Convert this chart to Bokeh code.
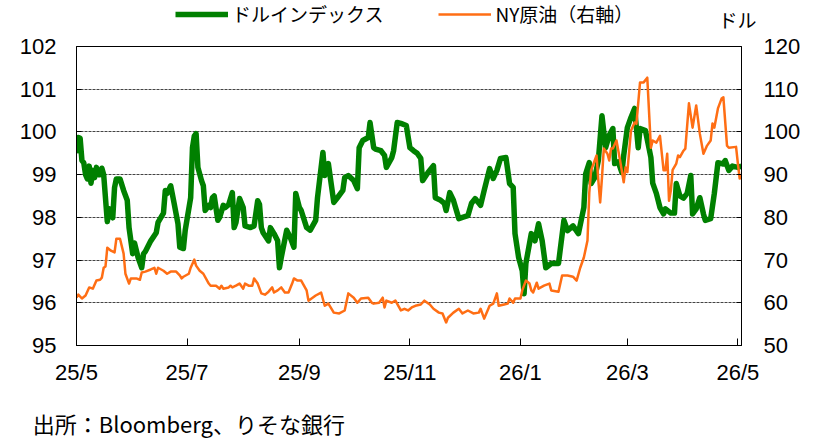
import pandas as pd
from bokeh.plotting import figure
from bokeh.layouts import column
from bokeh.models import (Range1d, LinearAxis, FixedTicker, Legend, LegendItem,
                          ColumnDataSource)
from bokeh.embed import file_html
from bokeh.resources import INLINE

# ---------------- data ----------------
green_dates = [
    "2025-05-01", "2025-05-02", "2025-05-03", "2025-05-04", "2025-05-05", "2025-05-06", "2025-05-07",
    "2025-05-08", "2025-05-09", "2025-05-10", "2025-05-11", "2025-05-12", "2025-05-13", "2025-05-14",
    "2025-05-15", "2025-05-16", "2025-05-18", "2025-05-19", "2025-05-21", "2025-05-22", "2025-05-23",
    "2025-05-25", "2025-05-27", "2025-05-29", "2025-05-30",
    "2025-06-01", "2025-06-02", "2025-06-04", "2025-06-06", "2025-06-07", "2025-06-08", "2025-06-11",
    "2025-06-14", "2025-06-15", "2025-06-18", "2025-06-19", "2025-06-20", "2025-06-22", "2025-06-24",
    "2025-06-26", "2025-06-27", "2025-06-29", "2025-06-30",
    "2025-07-03", "2025-07-04", "2025-07-05", "2025-07-06", "2025-07-07", "2025-07-09", "2025-07-10",
    "2025-07-11", "2025-07-13", "2025-07-14", "2025-07-15", "2025-07-16", "2025-07-18", "2025-07-19",
    "2025-07-21", "2025-07-22", "2025-07-24", "2025-07-26", "2025-07-27", "2025-07-28", "2025-07-30",
    "2025-08-01", "2025-08-02", "2025-08-05", "2025-08-07", "2025-08-09", "2025-08-10", "2025-08-11",
    "2025-08-12", "2025-08-15", "2025-08-16", "2025-08-18", "2025-08-20", "2025-08-21", "2025-08-22",
    "2025-08-25", "2025-08-27", "2025-08-29", "2025-08-30",
    "2025-09-01", "2025-09-02", "2025-09-05", "2025-09-07", "2025-09-10", "2025-09-11", "2025-09-14",
    "2025-09-15", "2025-09-17", "2025-09-20", "2025-09-22", "2025-09-25", "2025-09-26", "2025-09-28",
    "2025-10-01", "2025-10-03", "2025-10-04", "2025-10-06", "2025-10-09", "2025-10-10", "2025-10-12",
    "2025-10-13", "2025-10-16", "2025-10-18", "2025-10-19", "2025-10-22", "2025-10-23", "2025-10-25",
    "2025-10-27", "2025-10-30",
    "2025-11-01", "2025-11-03", "2025-11-05", "2025-11-07", "2025-11-08", "2025-11-11", "2025-11-14",
    "2025-11-15", "2025-11-18", "2025-11-20", "2025-11-21", "2025-11-23", "2025-11-25", "2025-11-28",
    "2025-11-30",
    "2025-12-03", "2025-12-05", "2025-12-07", "2025-12-10", "2025-12-12", "2025-12-15", "2025-12-17",
    "2025-12-19", "2025-12-21", "2025-12-24", "2025-12-26", "2025-12-28", "2025-12-29", "2025-12-31",
    "2026-01-02", "2026-01-03", "2026-01-04", "2026-01-06", "2026-01-07", "2026-01-09", "2026-01-11",
    "2026-01-13", "2026-01-15", "2026-01-18", "2026-01-22", "2026-01-25", "2026-01-27", "2026-01-30",
    "2026-02-02", "2026-02-05", "2026-02-06", "2026-02-08", "2026-02-09", "2026-02-11", "2026-02-13",
    "2026-02-15", "2026-02-17", "2026-02-19", "2026-02-21", "2026-02-22", "2026-02-24", "2026-02-26",
    "2026-02-27",
    "2026-03-01", "2026-03-03", "2026-03-05", "2026-03-07", "2026-03-08", "2026-03-11", "2026-03-14",
    "2026-03-15", "2026-03-17", "2026-03-19", "2026-03-21", "2026-03-22", "2026-03-25", "2026-03-27",
    "2026-03-28", "2026-03-30",
    "2026-04-01", "2026-04-03", "2026-04-05", "2026-04-06", "2026-04-08", "2026-04-10", "2026-04-12",
    "2026-04-13", "2026-04-16", "2026-04-18", "2026-04-20", "2026-04-23", "2026-04-24", "2026-04-26",
    "2026-04-28",
    "2026-05-01", "2026-05-03",
]
dollar_index = [
    99.5, 99.87, 99.85, 99.33, 99.28, 99.0, 98.9,
    99.2, 98.8, 99.1, 98.93, 99.17, 99.0, 99.0,
    99.15, 99.0, 97.9, 98.2, 97.99, 98.7, 98.9,
    98.9, 98.63, 98.4, 97.76,
    97.15, 97.4, 97.06, 96.82, 97.15, 97.2, 97.45,
    97.64, 97.88, 98.1, 98.63, 98.56, 98.74, 98.3,
    97.85, 97.3, 97.27, 97.7,
    98.46, 99.63, 99.9, 99.96, 99.17, 98.86, 98.74,
    98.16, 98.28, 98.23, 98.46, 98.5, 97.93, 98.0,
    98.28, 98.23, 98.3, 98.58, 97.76, 97.88, 98.44,
    98.23, 97.8, 97.76, 97.8, 98.39, 98.3, 97.76,
    97.64, 97.45, 97.76, 97.62, 97.45, 96.82, 97.06,
    97.7, 97.53, 97.3, 98.56,
    98.23, 98.16, 97.76, 97.7, 97.93, 98.46, 99.52,
    98.98, 99.26, 98.35, 98.46, 98.63, 98.93, 98.98,
    98.86, 98.67, 99.63, 99.8, 99.87, 100.22, 99.63,
    99.6, 99.56, 99.45, 99.17, 99.4, 99.56, 100.22,
    100.2, 100.15,
    99.63, 99.56, 99.5, 99.38, 98.86, 99.05, 99.21,
    98.46, 98.4, 98.33, 98.16, 98.58, 98.4, 97.97,
    98.0,
    98.04, 98.33, 98.44, 98.28, 98.63, 99.14, 98.91,
    99.1, 99.38, 99.4, 98.79, 98.7, 97.62, 97.06,
    96.75, 96.21, 96.92, 97.39, 97.62, 97.45, 97.85,
    97.45, 96.82, 96.92, 96.92, 97.93, 97.69, 97.8,
    97.62, 98.23, 99.02, 99.28, 98.79, 98.93, 99.33,
    100.38, 99.63, 99.92, 100.08, 99.26, 99.3, 99.05,
    99.45,
    100.1, 100.34, 100.55, 99.63, 100.08, 100.03, 99.4,
    98.8, 98.56, 98.23, 98.08, 98.2, 98.1, 98.1,
    98.79, 98.5,
    98.45, 98.56, 98.98, 98.08, 98.2, 98.46, 98.08,
    97.93, 97.97, 98.56, 99.28, 99.25, 99.33, 99.1,
    99.2,
    99.17, 99.2,
]

oil_dates = [
    "2025-05-01", "2025-05-02", "2025-05-04", "2025-05-06", "2025-05-08", "2025-05-10", "2025-05-12",
    "2025-05-14", "2025-05-15", "2025-05-16", "2025-05-17", "2025-05-18", "2025-05-20", "2025-05-22",
    "2025-05-23", "2025-05-25", "2025-05-27", "2025-05-28", "2025-05-30", "2025-05-31",
    "2025-06-03", "2025-06-05", "2025-06-06", "2025-06-08", "2025-06-11", "2025-06-13", "2025-06-14",
    "2025-06-15", "2025-06-18", "2025-06-20", "2025-06-22", "2025-06-25", "2025-06-27", "2025-06-28",
    "2025-06-29",
    "2025-07-02", "2025-07-03", "2025-07-05", "2025-07-06", "2025-07-08", "2025-07-10", "2025-07-13",
    "2025-07-14", "2025-07-17", "2025-07-19", "2025-07-20", "2025-07-21", "2025-07-24", "2025-07-25",
    "2025-07-26", "2025-07-28", "2025-07-30",
    "2025-08-01", "2025-08-02", "2025-08-04", "2025-08-06", "2025-08-07", "2025-08-09", "2025-08-11",
    "2025-08-13", "2025-08-15", "2025-08-17", "2025-08-18", "2025-08-20", "2025-08-22", "2025-08-24",
    "2025-08-26", "2025-08-28", "2025-08-29", "2025-08-31",
    "2025-09-02", "2025-09-05", "2025-09-06", "2025-09-10", "2025-09-13", "2025-09-15", "2025-09-17",
    "2025-09-20", "2025-09-23", "2025-09-26", "2025-09-28",
    "2025-10-01", "2025-10-03", "2025-10-05", "2025-10-09", "2025-10-11", "2025-10-12", "2025-10-15",
    "2025-10-17", "2025-10-18", "2025-10-19", "2025-10-22", "2025-10-24", "2025-10-27", "2025-10-29",
    "2025-10-31",
    "2025-11-02", "2025-11-04", "2025-11-07", "2025-11-09", "2025-11-12", "2025-11-14", "2025-11-17",
    "2025-11-19", "2025-11-21", "2025-11-22", "2025-11-25", "2025-11-28", "2025-11-30",
    "2025-12-03", "2025-12-06", "2025-12-09", "2025-12-10", "2025-12-12", "2025-12-15", "2025-12-17",
    "2025-12-19", "2025-12-20", "2025-12-23", "2025-12-25", "2025-12-26", "2025-12-28", "2025-12-29",
    "2026-01-01", "2026-01-02", "2026-01-04", "2026-01-06", "2026-01-07", "2026-01-08", "2026-01-10",
    "2026-01-11", "2026-01-14", "2026-01-17", "2026-01-18", "2026-01-22", "2026-01-24", "2026-01-27",
    "2026-01-30",
    "2026-02-01", "2026-02-03", "2026-02-05", "2026-02-07", "2026-02-08", "2026-02-09", "2026-02-11",
    "2026-02-12", "2026-02-13", "2026-02-14", "2026-02-15", "2026-02-16", "2026-02-18", "2026-02-19",
    "2026-02-20", "2026-02-21", "2026-02-23", "2026-02-25", "2026-02-27", "2026-02-28",
    "2026-03-01", "2026-03-03", "2026-03-05", "2026-03-06", "2026-03-08", "2026-03-10", "2026-03-12",
    "2026-03-14", "2026-03-15", "2026-03-17", "2026-03-19", "2026-03-21", "2026-03-22", "2026-03-23",
    "2026-03-24", "2026-03-25", "2026-03-26", "2026-03-28", "2026-03-29", "2026-03-30",
    "2026-04-01", "2026-04-02", "2026-04-04", "2026-04-06", "2026-04-08", "2026-04-10", "2026-04-12",
    "2026-04-14", "2026-04-16", "2026-04-17", "2026-04-18", "2026-04-20", "2026-04-22", "2026-04-23",
    "2026-04-25", "2026-04-26", "2026-04-30",
    "2026-05-01", "2026-05-02", "2026-05-03",
]
ny_crude = [
    61.2, 61.9, 61.0, 61.7, 63.6, 63.3, 65.2,
    65.4, 65.9, 68.2, 68.5, 72.9, 72.2, 71.8,
    75.0, 75.0, 71.5, 66.8, 64.5, 65.7,
    65.7, 65.4, 67.1, 67.3, 67.8, 68.2, 66.8,
    68.2, 67.5, 66.8, 67.3, 67.3, 66.4, 65.7,
    66.1,
    66.8, 68.2, 70.1, 68.7, 67.5, 66.8, 64.5,
    64.0, 64.0, 63.3, 64.0, 63.3, 63.6, 64.0,
    63.6, 64.0, 64.5,
    63.3, 64.5, 64.0, 64.0, 65.7, 64.5, 62.2,
    61.9, 62.6, 63.6, 62.4, 62.9, 63.6, 62.4,
    62.4, 64.5, 65.7, 65.2,
    65.2, 62.9, 60.5, 61.7, 62.4, 59.3, 59.8,
    57.7, 57.5, 58.2, 62.2,
    61.2, 60.0, 61.0, 61.2, 60.0, 59.8, 60.0,
    61.2, 58.9, 60.5, 60.0, 60.5, 58.2, 58.6,
    58.2,
    58.9, 59.3, 59.6, 60.5, 59.6, 58.6, 57.7,
    57.5, 55.4, 56.5, 57.7, 58.6, 57.5,
    58.2, 57.5, 57.7, 58.6, 56.3, 59.3, 59.8,
    62.2, 59.3, 59.6, 59.8, 61.0, 60.0, 61.0,
    61.0, 62.9, 65.2, 64.5, 62.9, 62.4, 64.7,
    63.3, 64.0, 64.5, 62.9, 62.6, 66.4, 66.4,
    66.1,
    65.2, 68.2, 70.6, 74.6, 85.8, 91.0, 93.3,
    94.5, 88.6, 83.5, 89.3, 96.1, 94.9, 93.3,
    96.1, 96.1, 98.0, 93.3, 88.2, 91.7,
    90.6, 100.3, 102.2, 101.9, 111.6, 111.6, 112.7,
    96.3, 98.0, 97.5, 99.1, 91.0, 91.0, 94.9,
    83.9, 86.3, 91.1, 92.6, 94.5, 94.1,
    95.6, 96.1, 106.7, 101.0, 106.2, 99.6, 94.9,
    96.8, 98.0, 102.0, 101.0, 105.5, 107.8, 108.1,
    96.8, 96.3, 96.5,
    92.6, 89.1, 89.8,
]

tick_dates = ["2025-05-01", "2025-07-01", "2025-09-01", "2025-11-01",
              "2026-01-01", "2026-03-01", "2026-05-01"]
tick_labels = ["25/5", "25/7", "25/9", "25/11", "26/1", "26/3", "26/5"]

left_ticks = [95, 96, 97, 98, 99, 100, 101, 102]
right_ticks = [50, 60, 70, 80, 90, 100, 110, 120]

series_names = ["ドルインデックス", "NY原油（右軸）"]
unit_label = "ドル"
source_text = "出所：Bloomberg、りそな銀行"

assert len(green_dates) == len(dollar_index)
assert len(oil_dates) == len(ny_crude)

# ---------------- build ----------------
start = pd.Timestamp("2025-05-01")
def to_days(ds):
    return [int(v) for v in (pd.to_datetime(ds) - start).days]

g_src = ColumnDataSource(dict(x=to_days(green_dates), y=dollar_index))
o_src = ColumnDataSource(dict(x=to_days(oil_dates), y=ny_crude))
tick_pos = to_days(tick_dates)

NUM_FONT = "Liberation Sans"
JP_FONT = "Noto Sans CJK JP"
GREEN = "#008000"
ORANGE = "#ff6e14"

W = 810
TOP_H = 34
MAIN_H = 407
FRAME_L = 76

# ---- header strip: legend + unit label ----
top = figure(width=W, height=TOP_H, output_backend="svg", toolbar_location=None,
             x_range=Range1d(0, W), y_range=Range1d(0, TOP_H),
             x_axis_location=None, y_axis_location=None,
             min_border_left=0, min_border_right=0, min_border_top=0,
             min_border_bottom=0)
top.outline_line_color = None
top.xgrid.visible = False
top.ygrid.visible = False
# same series, drawn here only to feed the legend samples (outside this strip's view)
tg = top.line("x", "y", source=g_src, line_color=GREEN, line_width=5.5)
to = top.line("x", "y", source=o_src, line_color=ORANGE, line_width=2.5)
legend = Legend(items=[LegendItem(label=series_names[0], renderers=[tg]),
                       LegendItem(label=series_names[1], renderers=[to])],
                orientation="horizontal", location=(175 - FRAME_L, 7),
                glyph_width=53, glyph_height=20, label_height=20,
                label_standoff=4, spacing=55, padding=0, margin=0,
                border_line_color=None, background_fill_alpha=0,
                label_text_font=JP_FONT, label_text_font_size="19px",
                label_text_color="black")
top.add_layout(legend)

# unit label of the right axis, shown in the header strip's right side panel
unit_pos = TOP_H - 19
unit_axis = LinearAxis(ticker=FixedTicker(ticks=[unit_pos]),
                       major_label_overrides={unit_pos: unit_label},
                       axis_line_color=None, major_tick_line_color=None,
                       minor_tick_line_color=None, major_tick_in=0,
                       major_tick_out=0, major_label_standoff=-23,
                       major_label_text_font=JP_FONT,
                       major_label_text_font_size="19px",
                       major_label_text_color="black")
top.add_layout(unit_axis, "right")

# ---- main chart ----
p = figure(width=W, height=MAIN_H, output_backend="svg", toolbar_location=None,
           x_range=Range1d(0, 367), y_range=Range1d(95, 102),
           min_border_left=FRAME_L, min_border_right=W - 741, min_border_top=12,
           min_border_bottom=96)
p.extra_y_ranges = {"oil": Range1d(50, 120)}

p.outline_line_color = "black"
p.outline_line_width = 1
p.xgrid.visible = False
p.ygrid.ticker = FixedTicker(ticks=left_ticks)
p.ygrid.grid_line_color = "#444444"
p.ygrid.grid_line_dash = "3 1"
p.ygrid.grid_line_width = 1.2

g = p.line("x", "y", source=g_src, line_color=GREEN, line_width=5.5,
           line_join="round")
o = p.line("x", "y", source=o_src, y_range_name="oil", line_color=ORANGE,
           line_width=2.5, line_join="round")

xa = p.xaxis[0]
xa.ticker = FixedTicker(ticks=tick_pos)
xa.major_label_overrides = {t: l for t, l in zip(tick_pos, tick_labels)}
xa.minor_tick_line_color = None
xa.major_tick_in = 7
xa.major_tick_out = 0
xa.major_label_standoff = 14

ya = p.yaxis[0]
ya.ticker = FixedTicker(ticks=left_ticks)
ya.minor_tick_line_color = None
ya.major_tick_in = 5
ya.major_tick_out = 0
ya.major_label_standoff = 20

ra = LinearAxis(y_range_name="oil", ticker=FixedTicker(ticks=right_ticks))
ra.minor_tick_line_color = None
ra.major_tick_in = 5
ra.major_tick_out = 0
ra.major_label_standoff = 22
p.add_layout(ra, "right")

for ax in (xa, ya, ra):
    ax.axis_line_color = "black"
    ax.major_tick_line_color = "black"
    ax.major_label_text_font = NUM_FONT
    ax.major_label_text_font_size = "22px"
    ax.major_label_text_color = "black"

# source note, shown in a second (bare) bottom side panel under the date axis
src_pos = 62
src_axis = LinearAxis(ticker=FixedTicker(ticks=[src_pos]),
                      major_label_overrides={src_pos: source_text},
                      axis_line_color=None, major_tick_line_color=None,
                      minor_tick_line_color=None, major_tick_in=0,
                      major_tick_out=0, major_label_standoff=19,
                      major_label_text_font=JP_FONT,
                      major_label_text_font_size="22px",
                      major_label_text_color="black")
p.add_layout(src_axis, "below")

layout = column(top, p, spacing=0)
open("out.html", "w").write(file_html(layout, INLINE))
